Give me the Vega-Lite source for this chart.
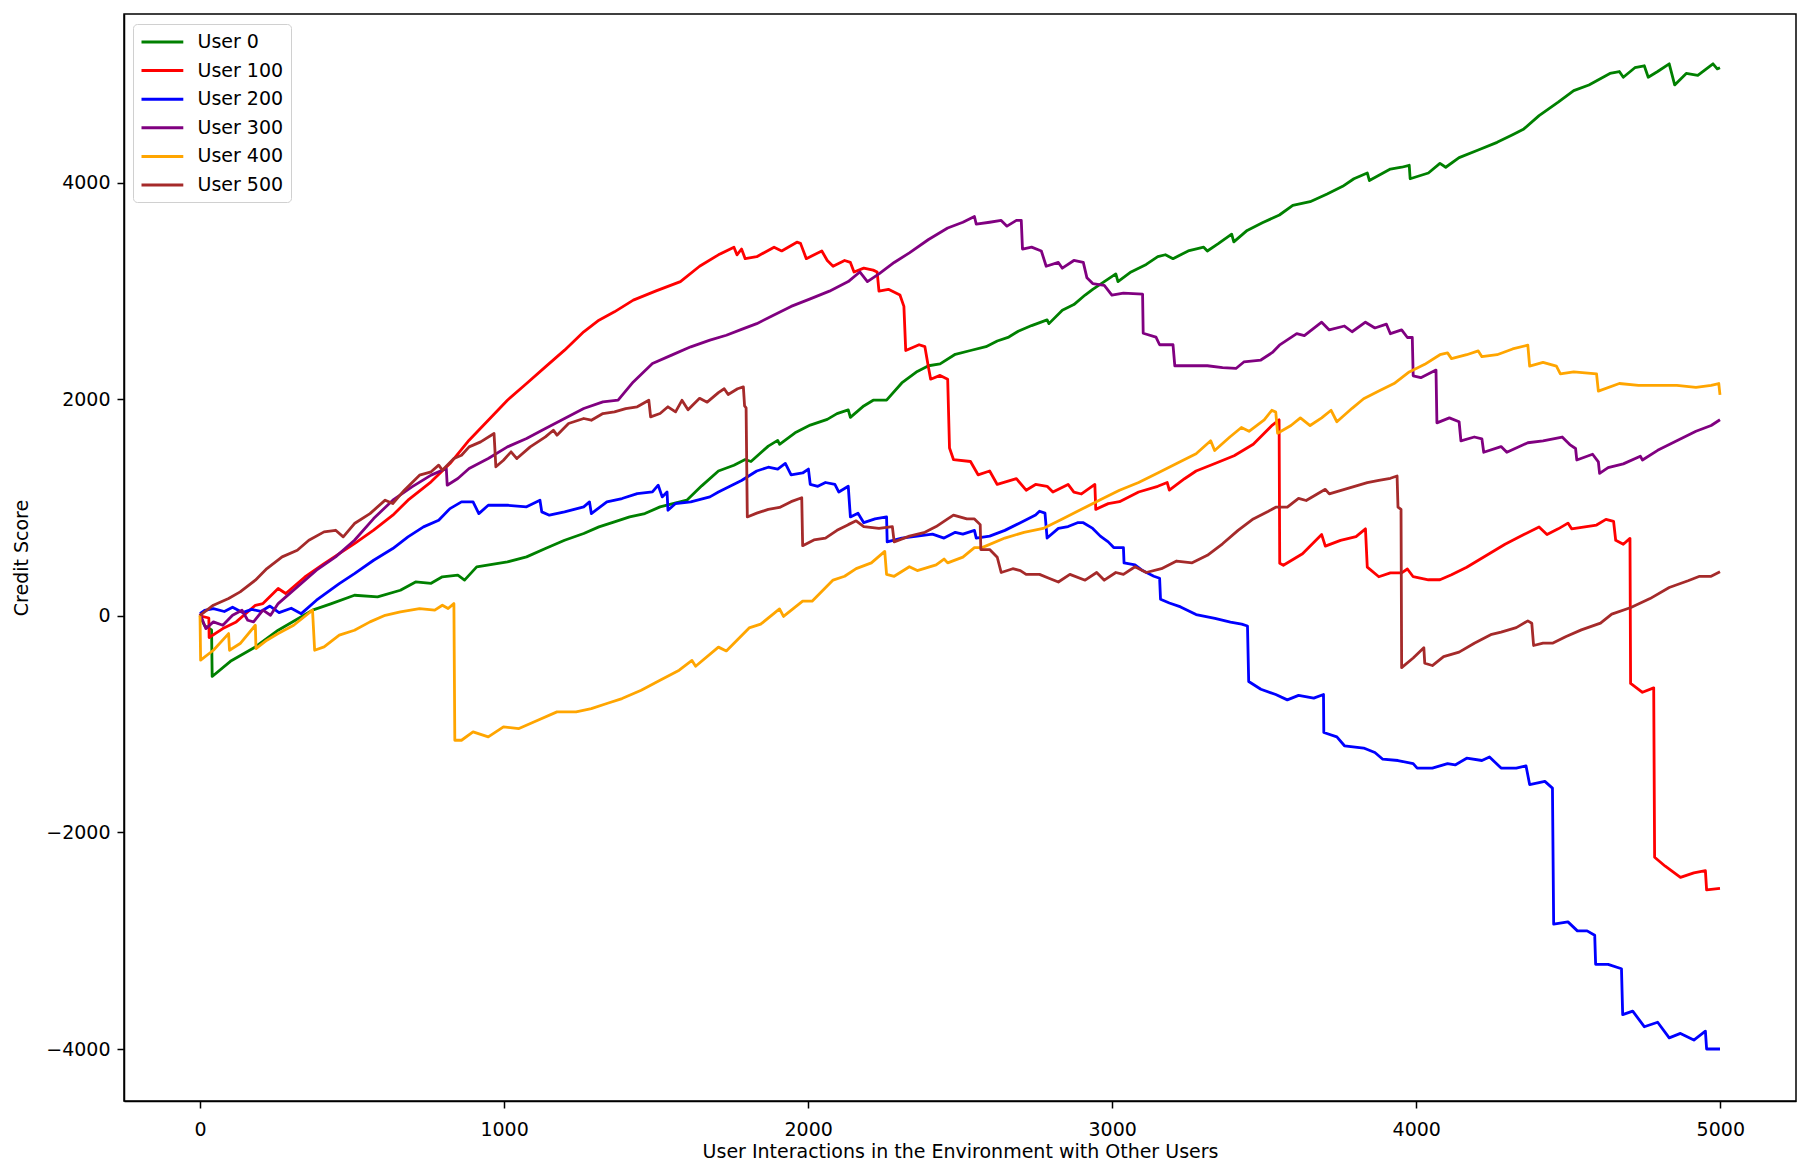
{
"$schema":"https://vega.github.io/schema/vega-lite/v6.json",
"width":1672,"height":1087,
"autosize":{"type":"none"},
"padding":{"left":124,"top":14,"right":15,"bottom":75},
"background":"white",
"config":{"font":"DejaVu Sans","view":{"stroke":"black","strokeWidth":1.5},
 "axis":{"grid":false,"domainColor":"black","domainWidth":1.5,"tickColor":"black","tickWidth":1.5,"tickSize":7,"labelFont":"DejaVu Sans","labelFontSize":19,"labelColor":"black","titleFont":"DejaVu Sans","titleFontSize":19,"titleFontWeight":"normal","titleColor":"black"}},
"data":{"values":[
{"u":"User 0","x":0,"y":0},{"u":"User 0","x":15,"y":-90},{"u":"User 0","x":38,"y":-130},{"u":"User 0","x":40,"y":-560},{"u":"User 0","x":100,"y":-420},{"u":"User 0","x":182,"y":-287},{"u":"User 0","x":257,"y":-133},{"u":"User 0","x":370,"y":52},{"u":"User 0","x":430,"y":110},{"u":"User 0","x":508,"y":190},{"u":"User 0","x":584,"y":175},{"u":"User 0","x":659,"y":236},{"u":"User 0","x":709,"y":313},{"u":"User 0","x":760,"y":300},{"u":"User 0","x":797,"y":360},{"u":"User 0","x":848,"y":375},{"u":"User 0","x":870,"y":330},{"u":"User 0","x":910,"y":452},{"u":"User 0","x":1011,"y":498},{"u":"User 0","x":1074,"y":544},{"u":"User 0","x":1136,"y":621},{"u":"User 0","x":1199,"y":698},{"u":"User 0","x":1262,"y":760},{"u":"User 0","x":1312,"y":821},{"u":"User 0","x":1363,"y":867},{"u":"User 0","x":1413,"y":914},{"u":"User 0","x":1463,"y":944},{"u":"User 0","x":1513,"y":1006},{"u":"User 0","x":1601,"y":1068},{"u":"User 0","x":1650,"y":1200},{"u":"User 0","x":1705,"y":1337},{"u":"User 0","x":1756,"y":1390},{"u":"User 0","x":1793,"y":1443},{"u":"User 0","x":1812,"y":1425},{"u":"User 0","x":1869,"y":1567},{"u":"User 0","x":1900,"y":1620},{"u":"User 0","x":1906,"y":1584},{"u":"User 0","x":1957,"y":1690},{"u":"User 0","x":2007,"y":1761},{"u":"User 0","x":2063,"y":1814},{"u":"User 0","x":2095,"y":1867},{"u":"User 0","x":2132,"y":1902},{"u":"User 0","x":2139,"y":1832},{"u":"User 0","x":2183,"y":1938},{"u":"User 0","x":2214,"y":1991},{"u":"User 0","x":2258,"y":1991},{"u":"User 0","x":2308,"y":2150},{"u":"User 0","x":2359,"y":2256},{"u":"User 0","x":2396,"y":2309},{"u":"User 0","x":2434,"y":2326},{"u":"User 0","x":2484,"y":2415},{"u":"User 0","x":2534,"y":2450},{"u":"User 0","x":2585,"y":2485},{"u":"User 0","x":2622,"y":2538},{"u":"User 0","x":2660,"y":2574},{"u":"User 0","x":2691,"y":2627},{"u":"User 0","x":2735,"y":2680},{"u":"User 0","x":2786,"y":2733},{"u":"User 0","x":2792,"y":2698},{"u":"User 0","x":2836,"y":2821},{"u":"User 0","x":2874,"y":2874},{"u":"User 0","x":2911,"y":2962},{"u":"User 0","x":2936,"y":3015},{"u":"User 0","x":2974,"y":3086},{"u":"User 0","x":3012,"y":3157},{"u":"User 0","x":3019,"y":3086},{"u":"User 0","x":3062,"y":3175},{"u":"User 0","x":3112,"y":3245},{"u":"User 0","x":3150,"y":3316},{"u":"User 0","x":3175,"y":3334},{"u":"User 0","x":3200,"y":3298},{"u":"User 0","x":3250,"y":3369},{"u":"User 0","x":3301,"y":3404},{"u":"User 0","x":3313,"y":3369},{"u":"User 0","x":3349,"y":3436},{"u":"User 0","x":3393,"y":3524},{"u":"User 0","x":3400,"y":3453},{"u":"User 0","x":3444,"y":3559},{"u":"User 0","x":3494,"y":3630},{"u":"User 0","x":3550,"y":3701},{"u":"User 0","x":3594,"y":3789},{"u":"User 0","x":3651,"y":3824},{"u":"User 0","x":3707,"y":3895},{"u":"User 0","x":3758,"y":3966},{"u":"User 0","x":3795,"y":4036},{"u":"User 0","x":3839,"y":4089},{"u":"User 0","x":3846,"y":4019},{"u":"User 0","x":3915,"y":4125},{"u":"User 0","x":3952,"y":4142},{"u":"User 0","x":3977,"y":4160},{"u":"User 0","x":3980,"y":4036},{"u":"User 0","x":4040,"y":4089},{"u":"User 0","x":4078,"y":4178},{"u":"User 0","x":4097,"y":4142},{"u":"User 0","x":4141,"y":4231},{"u":"User 0","x":4204,"y":4301},{"u":"User 0","x":4266,"y":4372},{"u":"User 0","x":4317,"y":4443},{"u":"User 0","x":4354,"y":4496},{"u":"User 0","x":4404,"y":4619},{"u":"User 0","x":4467,"y":4743},{"u":"User 0","x":4518,"y":4849},{"u":"User 0","x":4568,"y":4902},{"u":"User 0","x":4637,"y":5008},{"u":"User 0","x":4668,"y":5026},{"u":"User 0","x":4681,"y":4973},{"u":"User 0","x":4719,"y":5061},{"u":"User 0","x":4750,"y":5079},{"u":"User 0","x":4763,"y":4973},{"u":"User 0","x":4794,"y":5026},{"u":"User 0","x":4832,"y":5097},{"u":"User 0","x":4850,"y":4902},{"u":"User 0","x":4888,"y":5008},{"u":"User 0","x":4926,"y":4991},{"u":"User 0","x":4976,"y":5097},{"u":"User 0","x":4990,"y":5050},{"u":"User 0","x":4999,"y":5061},
{"u":"User 100","x":0,"y":0},{"u":"User 100","x":29,"y":-20},{"u":"User 100","x":30,"y":-200},{"u":"User 100","x":75,"y":-118},{"u":"User 100","x":119,"y":-56},{"u":"User 100","x":182,"y":97},{"u":"User 100","x":207,"y":113},{"u":"User 100","x":257,"y":252},{"u":"User 100","x":282,"y":206},{"u":"User 100","x":345,"y":359},{"u":"User 100","x":408,"y":482},{"u":"User 100","x":458,"y":575},{"u":"User 100","x":508,"y":667},{"u":"User 100","x":571,"y":791},{"u":"User 100","x":634,"y":929},{"u":"User 100","x":684,"y":1068},{"u":"User 100","x":760,"y":1237},{"u":"User 100","x":822,"y":1406},{"u":"User 100","x":885,"y":1622},{"u":"User 100","x":948,"y":1806},{"u":"User 100","x":1011,"y":1991},{"u":"User 100","x":1074,"y":2145},{"u":"User 100","x":1136,"y":2299},{"u":"User 100","x":1199,"y":2453},{"u":"User 100","x":1262,"y":2622},{"u":"User 100","x":1312,"y":2730},{"u":"User 100","x":1363,"y":2807},{"u":"User 100","x":1425,"y":2915},{"u":"User 100","x":1500,"y":3000},{"u":"User 100","x":1580,"y":3086},{"u":"User 100","x":1643,"y":3228},{"u":"User 100","x":1705,"y":3333},{"u":"User 100","x":1756,"y":3404},{"u":"User 100","x":1766,"y":3333},{"u":"User 100","x":1781,"y":3387},{"u":"User 100","x":1793,"y":3298},{"u":"User 100","x":1831,"y":3316},{"u":"User 100","x":1888,"y":3404},{"u":"User 100","x":1913,"y":3369},{"u":"User 100","x":1963,"y":3450},{"u":"User 100","x":1975,"y":3439},{"u":"User 100","x":1994,"y":3298},{"u":"User 100","x":2045,"y":3369},{"u":"User 100","x":2063,"y":3281},{"u":"User 100","x":2082,"y":3228},{"u":"User 100","x":2120,"y":3281},{"u":"User 100","x":2139,"y":3263},{"u":"User 100","x":2151,"y":3175},{"u":"User 100","x":2183,"y":3210},{"u":"User 100","x":2214,"y":3192},{"u":"User 100","x":2227,"y":3175},{"u":"User 100","x":2233,"y":2998},{"u":"User 100","x":2264,"y":3015},{"u":"User 100","x":2302,"y":2962},{"u":"User 100","x":2315,"y":2857},{"u":"User 100","x":2321,"y":2450},{"u":"User 100","x":2365,"y":2503},{"u":"User 100","x":2384,"y":2485},{"u":"User 100","x":2396,"y":2291},{"u":"User 100","x":2403,"y":2185},{"u":"User 100","x":2434,"y":2220},{"u":"User 100","x":2459,"y":2185},{"u":"User 100","x":2465,"y":1549},{"u":"User 100","x":2478,"y":1443},{"u":"User 100","x":2534,"y":1425},{"u":"User 100","x":2559,"y":1302},{"u":"User 100","x":2597,"y":1337},{"u":"User 100","x":2622,"y":1213},{"u":"User 100","x":2685,"y":1266},{"u":"User 100","x":2717,"y":1160},{"u":"User 100","x":2748,"y":1213},{"u":"User 100","x":2786,"y":1196},{"u":"User 100","x":2805,"y":1143},{"u":"User 100","x":2855,"y":1213},{"u":"User 100","x":2874,"y":1143},{"u":"User 100","x":2899,"y":1125},{"u":"User 100","x":2943,"y":1213},{"u":"User 100","x":2946,"y":983},{"u":"User 100","x":2987,"y":1036},{"u":"User 100","x":3024,"y":1054},{"u":"User 100","x":3087,"y":1143},{"u":"User 100","x":3150,"y":1196},{"u":"User 100","x":3181,"y":1231},{"u":"User 100","x":3188,"y":1160},{"u":"User 100","x":3238,"y":1266},{"u":"User 100","x":3276,"y":1337},{"u":"User 100","x":3338,"y":1407},{"u":"User 100","x":3401,"y":1478},{"u":"User 100","x":3464,"y":1584},{"u":"User 100","x":3527,"y":1761},{"u":"User 100","x":3549,"y":1810},{"u":"User 100","x":3551,"y":485},{"u":"User 100","x":3563,"y":467},{"u":"User 100","x":3626,"y":573},{"u":"User 100","x":3689,"y":750},{"u":"User 100","x":3701,"y":644},{"u":"User 100","x":3751,"y":697},{"u":"User 100","x":3802,"y":732},{"u":"User 100","x":3833,"y":803},{"u":"User 100","x":3839,"y":449},{"u":"User 100","x":3877,"y":361},{"u":"User 100","x":3915,"y":396},{"u":"User 100","x":3952,"y":396},{"u":"User 100","x":3971,"y":432},{"u":"User 100","x":3990,"y":361},{"u":"User 100","x":4040,"y":333},{"u":"User 100","x":4078,"y":333},{"u":"User 100","x":4116,"y":379},{"u":"User 100","x":4166,"y":449},{"u":"User 100","x":4229,"y":555},{"u":"User 100","x":4292,"y":661},{"u":"User 100","x":4354,"y":750},{"u":"User 100","x":4404,"y":821},{"u":"User 100","x":4430,"y":750},{"u":"User 100","x":4467,"y":803},{"u":"User 100","x":4499,"y":856},{"u":"User 100","x":4511,"y":803},{"u":"User 100","x":4593,"y":838},{"u":"User 100","x":4624,"y":891},{"u":"User 100","x":4649,"y":873},{"u":"User 100","x":4656,"y":697},{"u":"User 100","x":4681,"y":661},{"u":"User 100","x":4703,"y":715},{"u":"User 100","x":4705,"y":-624},{"u":"User 100","x":4744,"y":-706},{"u":"User 100","x":4781,"y":-665},{"u":"User 100","x":4784,"y":-2229},{"u":"User 100","x":4819,"y":-2312},{"u":"User 100","x":4869,"y":-2415},{"u":"User 100","x":4913,"y":-2373},{"u":"User 100","x":4951,"y":-2353},{"u":"User 100","x":4955,"y":-2530},{"u":"User 100","x":4999,"y":-2517},
{"u":"User 200","x":0,"y":21},{"u":"User 200","x":15,"y":50},{"u":"User 200","x":44,"y":67},{"u":"User 200","x":80,"y":40},{"u":"User 200","x":107,"y":80},{"u":"User 200","x":140,"y":30},{"u":"User 200","x":170,"y":60},{"u":"User 200","x":200,"y":40},{"u":"User 200","x":230,"y":90},{"u":"User 200","x":260,"y":30},{"u":"User 200","x":300,"y":70},{"u":"User 200","x":333,"y":20},{"u":"User 200","x":383,"y":144},{"u":"User 200","x":458,"y":298},{"u":"User 200","x":508,"y":390},{"u":"User 200","x":571,"y":513},{"u":"User 200","x":634,"y":621},{"u":"User 200","x":684,"y":729},{"u":"User 200","x":735,"y":821},{"u":"User 200","x":785,"y":883},{"u":"User 200","x":822,"y":990},{"u":"User 200","x":860,"y":1052},{"u":"User 200","x":898,"y":1052},{"u":"User 200","x":917,"y":944},{"u":"User 200","x":948,"y":1021},{"u":"User 200","x":1011,"y":1021},{"u":"User 200","x":1074,"y":1006},{"u":"User 200","x":1118,"y":1068},{"u":"User 200","x":1124,"y":960},{"u":"User 200","x":1149,"y":929},{"u":"User 200","x":1199,"y":960},{"u":"User 200","x":1262,"y":1006},{"u":"User 200","x":1281,"y":1052},{"u":"User 200","x":1287,"y":944},{"u":"User 200","x":1338,"y":1052},{"u":"User 200","x":1388,"y":1083},{"u":"User 200","x":1438,"y":1129},{"u":"User 200","x":1488,"y":1144},{"u":"User 200","x":1507,"y":1206},{"u":"User 200","x":1520,"y":1098},{"u":"User 200","x":1536,"y":1144},{"u":"User 200","x":1539,"y":975},{"u":"User 200","x":1564,"y":1037},{"u":"User 200","x":1614,"y":1052},{"u":"User 200","x":1677,"y":1098},{"u":"User 200","x":1705,"y":1143},{"u":"User 200","x":1743,"y":1196},{"u":"User 200","x":1781,"y":1249},{"u":"User 200","x":1831,"y":1337},{"u":"User 200","x":1869,"y":1372},{"u":"User 200","x":1900,"y":1355},{"u":"User 200","x":1925,"y":1407},{"u":"User 200","x":1944,"y":1302},{"u":"User 200","x":1982,"y":1319},{"u":"User 200","x":2001,"y":1355},{"u":"User 200","x":2007,"y":1213},{"u":"User 200","x":2032,"y":1196},{"u":"User 200","x":2057,"y":1231},{"u":"User 200","x":2088,"y":1213},{"u":"User 200","x":2101,"y":1143},{"u":"User 200","x":2132,"y":1196},{"u":"User 200","x":2139,"y":913},{"u":"User 200","x":2164,"y":948},{"u":"User 200","x":2183,"y":860},{"u":"User 200","x":2220,"y":895},{"u":"User 200","x":2258,"y":913},{"u":"User 200","x":2260,"y":683},{"u":"User 200","x":2308,"y":718},{"u":"User 200","x":2359,"y":736},{"u":"User 200","x":2409,"y":754},{"u":"User 200","x":2447,"y":718},{"u":"User 200","x":2484,"y":771},{"u":"User 200","x":2509,"y":754},{"u":"User 200","x":2547,"y":789},{"u":"User 200","x":2553,"y":718},{"u":"User 200","x":2597,"y":736},{"u":"User 200","x":2647,"y":789},{"u":"User 200","x":2698,"y":860},{"u":"User 200","x":2748,"y":931},{"u":"User 200","x":2761,"y":966},{"u":"User 200","x":2779,"y":948},{"u":"User 200","x":2786,"y":718},{"u":"User 200","x":2823,"y":807},{"u":"User 200","x":2855,"y":824},{"u":"User 200","x":2886,"y":860},{"u":"User 200","x":2905,"y":860},{"u":"User 200","x":2936,"y":807},{"u":"User 200","x":2961,"y":736},{"u":"User 200","x":2987,"y":683},{"u":"User 200","x":3005,"y":630},{"u":"User 200","x":3037,"y":630},{"u":"User 200","x":3039,"y":489},{"u":"User 200","x":3075,"y":471},{"u":"User 200","x":3100,"y":418},{"u":"User 200","x":3137,"y":365},{"u":"User 200","x":3156,"y":347},{"u":"User 200","x":3159,"y":153},{"u":"User 200","x":3188,"y":118},{"u":"User 200","x":3225,"y":82},{"u":"User 200","x":3276,"y":12},{"u":"User 200","x":3338,"y":-24},{"u":"User 200","x":3389,"y":-59},{"u":"User 200","x":3426,"y":-77},{"u":"User 200","x":3445,"y":-94},{"u":"User 200","x":3449,"y":-607},{"u":"User 200","x":3489,"y":-678},{"u":"User 200","x":3538,"y":-727},{"u":"User 200","x":3576,"y":-776},{"u":"User 200","x":3613,"y":-735},{"u":"User 200","x":3663,"y":-760},{"u":"User 200","x":3695,"y":-727},{"u":"User 200","x":3696,"y":-1077},{"u":"User 200","x":3739,"y":-1118},{"u":"User 200","x":3764,"y":-1200},{"u":"User 200","x":3827,"y":-1221},{"u":"User 200","x":3864,"y":-1262},{"u":"User 200","x":3890,"y":-1324},{"u":"User 200","x":3940,"y":-1336},{"u":"User 200","x":3990,"y":-1365},{"u":"User 200","x":4003,"y":-1406},{"u":"User 200","x":4053,"y":-1406},{"u":"User 200","x":4103,"y":-1365},{"u":"User 200","x":4128,"y":-1377},{"u":"User 200","x":4166,"y":-1315},{"u":"User 200","x":4216,"y":-1336},{"u":"User 200","x":4241,"y":-1303},{"u":"User 200","x":4279,"y":-1406},{"u":"User 200","x":4329,"y":-1406},{"u":"User 200","x":4361,"y":-1385},{"u":"User 200","x":4373,"y":-1558},{"u":"User 200","x":4423,"y":-1529},{"u":"User 200","x":4448,"y":-1591},{"u":"User 200","x":4452,"y":-2847},{"u":"User 200","x":4499,"y":-2826},{"u":"User 200","x":4530,"y":-2909},{"u":"User 200","x":4562,"y":-2909},{"u":"User 200","x":4587,"y":-2950},{"u":"User 200","x":4590,"y":-3218},{"u":"User 200","x":4631,"y":-3218},{"u":"User 200","x":4675,"y":-3259},{"u":"User 200","x":4679,"y":-3683},{"u":"User 200","x":4712,"y":-3650},{"u":"User 200","x":4750,"y":-3794},{"u":"User 200","x":4794,"y":-3753},{"u":"User 200","x":4832,"y":-3897},{"u":"User 200","x":4869,"y":-3856},{"u":"User 200","x":4913,"y":-3917},{"u":"User 200","x":4951,"y":-3835},{"u":"User 200","x":4955,"y":-4000},{"u":"User 200","x":4999,"y":-4000},
{"u":"User 300","x":0,"y":21},{"u":"User 300","x":19,"y":-118},{"u":"User 300","x":44,"y":-56},{"u":"User 300","x":75,"y":-87},{"u":"User 300","x":107,"y":5},{"u":"User 300","x":138,"y":52},{"u":"User 300","x":157,"y":-41},{"u":"User 300","x":176,"y":-56},{"u":"User 300","x":207,"y":52},{"u":"User 300","x":232,"y":5},{"u":"User 300","x":257,"y":113},{"u":"User 300","x":320,"y":267},{"u":"User 300","x":383,"y":421},{"u":"User 300","x":446,"y":544},{"u":"User 300","x":508,"y":698},{"u":"User 300","x":571,"y":898},{"u":"User 300","x":634,"y":1068},{"u":"User 300","x":697,"y":1191},{"u":"User 300","x":760,"y":1299},{"u":"User 300","x":810,"y":1360},{"u":"User 300","x":813,"y":1206},{"u":"User 300","x":848,"y":1268},{"u":"User 300","x":885,"y":1360},{"u":"User 300","x":948,"y":1452},{"u":"User 300","x":1011,"y":1560},{"u":"User 300","x":1074,"y":1637},{"u":"User 300","x":1136,"y":1729},{"u":"User 300","x":1199,"y":1822},{"u":"User 300","x":1262,"y":1914},{"u":"User 300","x":1325,"y":1976},{"u":"User 300","x":1375,"y":1991},{"u":"User 300","x":1425,"y":2160},{"u":"User 300","x":1488,"y":2330},{"u":"User 300","x":1551,"y":2407},{"u":"User 300","x":1614,"y":2484},{"u":"User 300","x":1677,"y":2545},{"u":"User 300","x":1731,"y":2591},{"u":"User 300","x":1781,"y":2645},{"u":"User 300","x":1831,"y":2698},{"u":"User 300","x":1881,"y":2768},{"u":"User 300","x":1944,"y":2857},{"u":"User 300","x":2007,"y":2927},{"u":"User 300","x":2070,"y":2998},{"u":"User 300","x":2132,"y":3086},{"u":"User 300","x":2170,"y":3175},{"u":"User 300","x":2195,"y":3086},{"u":"User 300","x":2233,"y":3157},{"u":"User 300","x":2283,"y":3263},{"u":"User 300","x":2333,"y":3351},{"u":"User 300","x":2396,"y":3475},{"u":"User 300","x":2459,"y":3581},{"u":"User 300","x":2509,"y":3634},{"u":"User 300","x":2547,"y":3687},{"u":"User 300","x":2553,"y":3616},{"u":"User 300","x":2597,"y":3634},{"u":"User 300","x":2635,"y":3651},{"u":"User 300","x":2654,"y":3598},{"u":"User 300","x":2685,"y":3651},{"u":"User 300","x":2701,"y":3651},{"u":"User 300","x":2705,"y":3387},{"u":"User 300","x":2735,"y":3404},{"u":"User 300","x":2767,"y":3369},{"u":"User 300","x":2783,"y":3228},{"u":"User 300","x":2823,"y":3263},{"u":"User 300","x":2836,"y":3210},{"u":"User 300","x":2874,"y":3281},{"u":"User 300","x":2905,"y":3263},{"u":"User 300","x":2917,"y":3121},{"u":"User 300","x":2936,"y":3068},{"u":"User 300","x":2974,"y":3051},{"u":"User 300","x":2999,"y":2962},{"u":"User 300","x":3037,"y":2980},{"u":"User 300","x":3100,"y":2970},{"u":"User 300","x":3102,"y":2609},{"u":"User 300","x":3144,"y":2574},{"u":"User 300","x":3156,"y":2503},{"u":"User 300","x":3200,"y":2503},{"u":"User 300","x":3206,"y":2309},{"u":"User 300","x":3263,"y":2309},{"u":"User 300","x":3313,"y":2309},{"u":"User 300","x":3363,"y":2291},{"u":"User 300","x":3407,"y":2284},{"u":"User 300","x":3433,"y":2344},{"u":"User 300","x":3489,"y":2362},{"u":"User 300","x":3527,"y":2432},{"u":"User 300","x":3550,"y":2499},{"u":"User 300","x":3607,"y":2605},{"u":"User 300","x":3632,"y":2587},{"u":"User 300","x":3689,"y":2711},{"u":"User 300","x":3714,"y":2640},{"u":"User 300","x":3764,"y":2676},{"u":"User 300","x":3789,"y":2623},{"u":"User 300","x":3833,"y":2711},{"u":"User 300","x":3864,"y":2658},{"u":"User 300","x":3902,"y":2693},{"u":"User 300","x":3915,"y":2605},{"u":"User 300","x":3952,"y":2640},{"u":"User 300","x":3971,"y":2570},{"u":"User 300","x":3987,"y":2570},{"u":"User 300","x":3990,"y":2216},{"u":"User 300","x":4015,"y":2199},{"u":"User 300","x":4065,"y":2269},{"u":"User 300","x":4068,"y":1782},{"u":"User 300","x":4109,"y":1828},{"u":"User 300","x":4141,"y":1792},{"u":"User 300","x":4147,"y":1616},{"u":"User 300","x":4191,"y":1651},{"u":"User 300","x":4216,"y":1633},{"u":"User 300","x":4222,"y":1510},{"u":"User 300","x":4279,"y":1563},{"u":"User 300","x":4298,"y":1510},{"u":"User 300","x":4367,"y":1598},{"u":"User 300","x":4417,"y":1616},{"u":"User 300","x":4480,"y":1651},{"u":"User 300","x":4505,"y":1581},{"u":"User 300","x":4524,"y":1545},{"u":"User 300","x":4528,"y":1439},{"u":"User 300","x":4580,"y":1492},{"u":"User 300","x":4599,"y":1421},{"u":"User 300","x":4603,"y":1315},{"u":"User 300","x":4631,"y":1368},{"u":"User 300","x":4681,"y":1403},{"u":"User 300","x":4737,"y":1474},{"u":"User 300","x":4744,"y":1439},{"u":"User 300","x":4794,"y":1528},{"u":"User 300","x":4857,"y":1616},{"u":"User 300","x":4920,"y":1704},{"u":"User 300","x":4970,"y":1757},{"u":"User 300","x":4999,"y":1810},
{"u":"User 400","x":0,"y":5},{"u":"User 400","x":2,"y":-410},{"u":"User 400","x":44,"y":-318},{"u":"User 400","x":94,"y":-164},{"u":"User 400","x":97,"y":-318},{"u":"User 400","x":132,"y":-256},{"u":"User 400","x":182,"y":-87},{"u":"User 400","x":184,"y":-302},{"u":"User 400","x":220,"y":-225},{"u":"User 400","x":257,"y":-164},{"u":"User 400","x":308,"y":-87},{"u":"User 400","x":370,"y":52},{"u":"User 400","x":377,"y":-318},{"u":"User 400","x":408,"y":-287},{"u":"User 400","x":458,"y":-179},{"u":"User 400","x":508,"y":-133},{"u":"User 400","x":559,"y":-56},{"u":"User 400","x":609,"y":5},{"u":"User 400","x":659,"y":36},{"u":"User 400","x":722,"y":67},{"u":"User 400","x":772,"y":52},{"u":"User 400","x":797,"y":98},{"u":"User 400","x":816,"y":67},{"u":"User 400","x":835,"y":113},{"u":"User 400","x":838,"y":-1149},{"u":"User 400","x":860,"y":-1149},{"u":"User 400","x":898,"y":-1072},{"u":"User 400","x":948,"y":-1118},{"u":"User 400","x":998,"y":-1026},{"u":"User 400","x":1049,"y":-1041},{"u":"User 400","x":1111,"y":-964},{"u":"User 400","x":1174,"y":-887},{"u":"User 400","x":1237,"y":-887},{"u":"User 400","x":1287,"y":-857},{"u":"User 400","x":1338,"y":-810},{"u":"User 400","x":1388,"y":-764},{"u":"User 400","x":1451,"y":-687},{"u":"User 400","x":1513,"y":-595},{"u":"User 400","x":1576,"y":-502},{"u":"User 400","x":1618,"y":-412},{"u":"User 400","x":1630,"y":-466},{"u":"User 400","x":1705,"y":-289},{"u":"User 400","x":1731,"y":-324},{"u":"User 400","x":1806,"y":-112},{"u":"User 400","x":1844,"y":-77},{"u":"User 400","x":1906,"y":64},{"u":"User 400","x":1919,"y":-6},{"u":"User 400","x":1982,"y":135},{"u":"User 400","x":2013,"y":135},{"u":"User 400","x":2082,"y":330},{"u":"User 400","x":2120,"y":365},{"u":"User 400","x":2158,"y":436},{"u":"User 400","x":2208,"y":489},{"u":"User 400","x":2252,"y":595},{"u":"User 400","x":2258,"y":383},{"u":"User 400","x":2283,"y":365},{"u":"User 400","x":2333,"y":453},{"u":"User 400","x":2359,"y":418},{"u":"User 400","x":2421,"y":471},{"u":"User 400","x":2447,"y":524},{"u":"User 400","x":2459,"y":489},{"u":"User 400","x":2509,"y":542},{"u":"User 400","x":2547,"y":630},{"u":"User 400","x":2572,"y":630},{"u":"User 400","x":2647,"y":718},{"u":"User 400","x":2710,"y":771},{"u":"User 400","x":2773,"y":807},{"u":"User 400","x":2836,"y":895},{"u":"User 400","x":2899,"y":983},{"u":"User 400","x":2961,"y":1072},{"u":"User 400","x":3024,"y":1160},{"u":"User 400","x":3087,"y":1231},{"u":"User 400","x":3150,"y":1319},{"u":"User 400","x":3212,"y":1407},{"u":"User 400","x":3276,"y":1496},{"u":"User 400","x":3324,"y":1616},{"u":"User 400","x":3337,"y":1527},{"u":"User 400","x":3387,"y":1651},{"u":"User 400","x":3425,"y":1739},{"u":"User 400","x":3450,"y":1704},{"u":"User 400","x":3500,"y":1810},{"u":"User 400","x":3525,"y":1898},{"u":"User 400","x":3538,"y":1881},{"u":"User 400","x":3544,"y":1686},{"u":"User 400","x":3588,"y":1757},{"u":"User 400","x":3619,"y":1828},{"u":"User 400","x":3651,"y":1757},{"u":"User 400","x":3689,"y":1828},{"u":"User 400","x":3720,"y":1898},{"u":"User 400","x":3739,"y":1792},{"u":"User 400","x":3789,"y":1916},{"u":"User 400","x":3827,"y":2004},{"u":"User 400","x":3877,"y":2075},{"u":"User 400","x":3927,"y":2145},{"u":"User 400","x":3977,"y":2252},{"u":"User 400","x":4028,"y":2322},{"u":"User 400","x":4078,"y":2411},{"u":"User 400","x":4103,"y":2428},{"u":"User 400","x":4116,"y":2375},{"u":"User 400","x":4166,"y":2411},{"u":"User 400","x":4204,"y":2446},{"u":"User 400","x":4216,"y":2393},{"u":"User 400","x":4266,"y":2411},{"u":"User 400","x":4317,"y":2464},{"u":"User 400","x":4367,"y":2499},{"u":"User 400","x":4373,"y":2305},{"u":"User 400","x":4417,"y":2340},{"u":"User 400","x":4461,"y":2305},{"u":"User 400","x":4474,"y":2234},{"u":"User 400","x":4518,"y":2252},{"u":"User 400","x":4593,"y":2234},{"u":"User 400","x":4599,"y":2075},{"u":"User 400","x":4668,"y":2145},{"u":"User 400","x":4731,"y":2128},{"u":"User 400","x":4794,"y":2128},{"u":"User 400","x":4857,"y":2128},{"u":"User 400","x":4920,"y":2110},{"u":"User 400","x":4970,"y":2128},{"u":"User 400","x":4995,"y":2145},{"u":"User 400","x":4999,"y":2040},
{"u":"User 500","x":0,"y":5},{"u":"User 500","x":44,"y":98},{"u":"User 500","x":94,"y":160},{"u":"User 500","x":132,"y":221},{"u":"User 500","x":182,"y":329},{"u":"User 500","x":220,"y":436},{"u":"User 500","x":270,"y":544},{"u":"User 500","x":320,"y":606},{"u":"User 500","x":358,"y":698},{"u":"User 500","x":408,"y":775},{"u":"User 500","x":446,"y":790},{"u":"User 500","x":471,"y":729},{"u":"User 500","x":508,"y":852},{"u":"User 500","x":559,"y":944},{"u":"User 500","x":609,"y":1068},{"u":"User 500","x":634,"y":1037},{"u":"User 500","x":672,"y":1160},{"u":"User 500","x":722,"y":1299},{"u":"User 500","x":760,"y":1330},{"u":"User 500","x":785,"y":1391},{"u":"User 500","x":797,"y":1345},{"u":"User 500","x":835,"y":1452},{"u":"User 500","x":860,"y":1483},{"u":"User 500","x":885,"y":1560},{"u":"User 500","x":923,"y":1606},{"u":"User 500","x":967,"y":1683},{"u":"User 500","x":973,"y":1376},{"u":"User 500","x":998,"y":1437},{"u":"User 500","x":1023,"y":1514},{"u":"User 500","x":1042,"y":1452},{"u":"User 500","x":1086,"y":1560},{"u":"User 500","x":1136,"y":1652},{"u":"User 500","x":1162,"y":1714},{"u":"User 500","x":1174,"y":1668},{"u":"User 500","x":1212,"y":1776},{"u":"User 500","x":1262,"y":1822},{"u":"User 500","x":1287,"y":1806},{"u":"User 500","x":1325,"y":1868},{"u":"User 500","x":1363,"y":1883},{"u":"User 500","x":1400,"y":1914},{"u":"User 500","x":1438,"y":1930},{"u":"User 500","x":1476,"y":1991},{"u":"User 500","x":1482,"y":1837},{"u":"User 500","x":1513,"y":1868},{"u":"User 500","x":1539,"y":1930},{"u":"User 500","x":1564,"y":1883},{"u":"User 500","x":1585,"y":1990},{"u":"User 500","x":1605,"y":1902},{"u":"User 500","x":1643,"y":2008},{"u":"User 500","x":1668,"y":1973},{"u":"User 500","x":1705,"y":2061},{"u":"User 500","x":1724,"y":2097},{"u":"User 500","x":1737,"y":2044},{"u":"User 500","x":1768,"y":2097},{"u":"User 500","x":1787,"y":2114},{"u":"User 500","x":1791,"y":1938},{"u":"User 500","x":1796,"y":1920},{"u":"User 500","x":1800,"y":913},{"u":"User 500","x":1831,"y":948},{"u":"User 500","x":1869,"y":983},{"u":"User 500","x":1906,"y":1001},{"u":"User 500","x":1944,"y":1054},{"u":"User 500","x":1979,"y":1090},{"u":"User 500","x":1982,"y":648},{"u":"User 500","x":2019,"y":701},{"u":"User 500","x":2057,"y":718},{"u":"User 500","x":2095,"y":789},{"u":"User 500","x":2132,"y":842},{"u":"User 500","x":2158,"y":877},{"u":"User 500","x":2183,"y":824},{"u":"User 500","x":2233,"y":807},{"u":"User 500","x":2277,"y":824},{"u":"User 500","x":2283,"y":683},{"u":"User 500","x":2333,"y":736},{"u":"User 500","x":2384,"y":771},{"u":"User 500","x":2421,"y":824},{"u":"User 500","x":2459,"y":895},{"u":"User 500","x":2478,"y":930},{"u":"User 500","x":2522,"y":895},{"u":"User 500","x":2547,"y":895},{"u":"User 500","x":2566,"y":842},{"u":"User 500","x":2568,"y":612},{"u":"User 500","x":2597,"y":612},{"u":"User 500","x":2622,"y":541},{"u":"User 500","x":2635,"y":400},{"u":"User 500","x":2673,"y":435},{"u":"User 500","x":2698,"y":418},{"u":"User 500","x":2717,"y":383},{"u":"User 500","x":2761,"y":383},{"u":"User 500","x":2792,"y":347},{"u":"User 500","x":2823,"y":312},{"u":"User 500","x":2861,"y":383},{"u":"User 500","x":2911,"y":329},{"u":"User 500","x":2949,"y":400},{"u":"User 500","x":2974,"y":329},{"u":"User 500","x":3012,"y":400},{"u":"User 500","x":3037,"y":383},{"u":"User 500","x":3075,"y":453},{"u":"User 500","x":3112,"y":400},{"u":"User 500","x":3162,"y":435},{"u":"User 500","x":3212,"y":506},{"u":"User 500","x":3263,"y":489},{"u":"User 500","x":3313,"y":559},{"u":"User 500","x":3363,"y":665},{"u":"User 500","x":3414,"y":789},{"u":"User 500","x":3464,"y":895},{"u":"User 500","x":3514,"y":966},{"u":"User 500","x":3538,"y":1003},{"u":"User 500","x":3576,"y":1003},{"u":"User 500","x":3613,"y":1085},{"u":"User 500","x":3638,"y":1065},{"u":"User 500","x":3701,"y":1168},{"u":"User 500","x":3714,"y":1126},{"u":"User 500","x":3764,"y":1168},{"u":"User 500","x":3814,"y":1209},{"u":"User 500","x":3839,"y":1229},{"u":"User 500","x":3877,"y":1250},{"u":"User 500","x":3915,"y":1270},{"u":"User 500","x":3937,"y":1291},{"u":"User 500","x":3940,"y":1003},{"u":"User 500","x":3950,"y":982},{"u":"User 500","x":3952,"y":-479},{"u":"User 500","x":3990,"y":-389},{"u":"User 500","x":4025,"y":-294},{"u":"User 500","x":4028,"y":-438},{"u":"User 500","x":4053,"y":-459},{"u":"User 500","x":4090,"y":-377},{"u":"User 500","x":4141,"y":-335},{"u":"User 500","x":4191,"y":-253},{"u":"User 500","x":4248,"y":-171},{"u":"User 500","x":4279,"y":-150},{"u":"User 500","x":4329,"y":-109},{"u":"User 500","x":4367,"y":-47},{"u":"User 500","x":4380,"y":-68},{"u":"User 500","x":4386,"y":-274},{"u":"User 500","x":4417,"y":-253},{"u":"User 500","x":4448,"y":-253},{"u":"User 500","x":4493,"y":-191},{"u":"User 500","x":4543,"y":-130},{"u":"User 500","x":4606,"y":-68},{"u":"User 500","x":4643,"y":15},{"u":"User 500","x":4706,"y":77},{"u":"User 500","x":4769,"y":159},{"u":"User 500","x":4832,"y":262},{"u":"User 500","x":4894,"y":324},{"u":"User 500","x":4932,"y":365},{"u":"User 500","x":4970,"y":365},{"u":"User 500","x":4999,"y":406}
]},
"mark":{"type":"line","strokeWidth":2.8,"strokeJoin":"round"},
"encoding":{
"x":{"field":"x","type":"quantitative","scale":{"domain":[-250,5249],"nice":false,"zero":false},
 "axis":{"values":[0,1000,2000,3000,4000,5000],"format":"d","labelPadding":12.5,"titlePadding":3,"title":"User Interactions in the Environment with Other Users"}},
"y":{"field":"y","type":"quantitative","scale":{"domain":[-4480,5557],"nice":false,"zero":false},
 "axis":{"values":[-4000,-2000,0,2000,4000],"format":"d","labelPadding":7,"titlePadding":14,"title":"Credit Score"}},
"color":{"field":"u","type":"nominal","scale":{"domain":["User 0","User 100","User 200","User 300","User 400","User 500"],"range":["#008000","#ff0000","#0000ff","#800080","#ffa500","#a52a2a"]},
 "legend":{"orient":"none","legendX":9,"legendY":10,"title":null,"symbolType":"M-1,0H3.4","symbolSize":361,"symbolStrokeWidth":3,"labelFont":"DejaVu Sans","labelFontSize":19,"labelColor":"black","labelOffset":35.5,"rowPadding":7.6,"padding":7,"fillColor":"white","strokeColor":"#d0d0d0","cornerRadius":4}}
}
}
